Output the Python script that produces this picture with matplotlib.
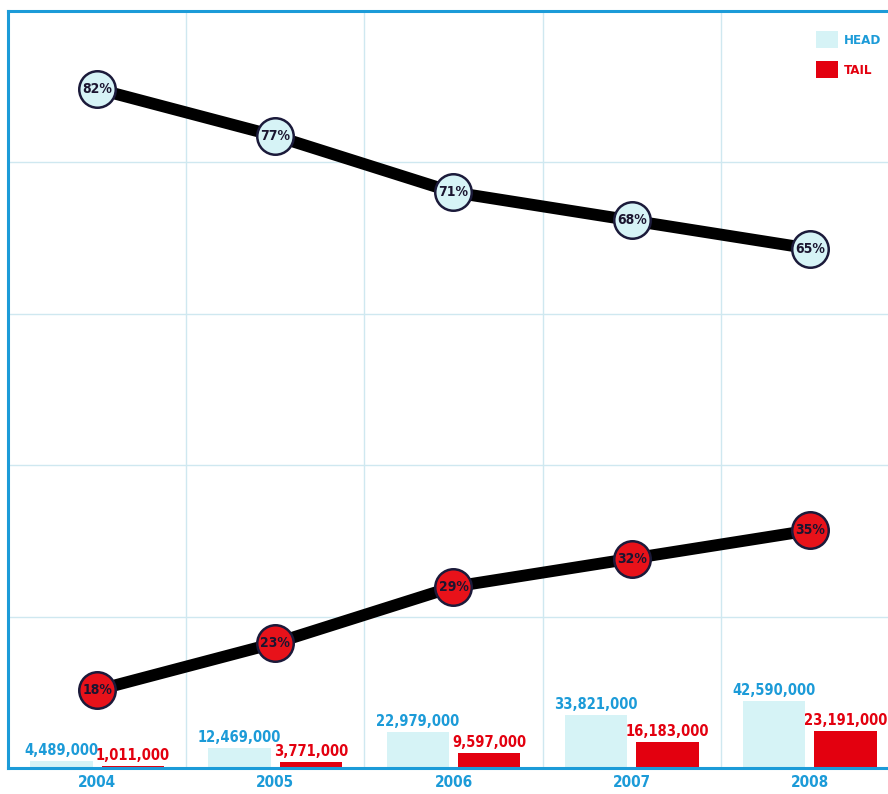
import numpy as np
import matplotlib.pyplot as plt
from matplotlib.patches import Patch

years = ['2004', '2005', '2006', '2007', '2008']
head_views = [4489000, 12469000, 22979000, 33821000, 42590000]
tail_views = [1011000, 3771000, 9597000, 16183000, 23191000]
head_share = [82, 77, 71, 68, 65]
tail_share = [18, 23, 29, 32, 35]

BLUE = '#1c9bd8'
RED = '#e3000f'
HEAD_FILL = '#d6f3f6'
TAIL_FILL = '#e8121a'

plt.rcParams['font.family'] = ['DejaVu Sans']
plt.rcParams['font.stretch'] = 'condensed'
plt.rcParams['font.weight'] = 'bold'

fig = plt.figure(figsize=(8.88, 7.94), dpi=100)
ax = fig.add_axes([8 / 888, 26 / 794, 891 / 888, 757 / 794])

x = np.arange(len(years))
w = 0.35
ax.bar(x - 0.2, np.array(head_views) / 1e6, w, color=HEAD_FILL, zorder=2)
ax.bar(x + 0.2, np.array(tail_views) / 1e6, w, color=RED, zorder=2)
for xi, h, t in zip(x, head_views, tail_views):
    ax.text(xi - 0.2, h / 1e6 + 2, f'{h:,}', ha='center', va='bottom',
            color=BLUE, fontsize=10.5, zorder=3)
    ax.text(xi + 0.2, t / 1e6 + 2, f'{t:,}', ha='center', va='bottom',
            color=RED, fontsize=10.5, zorder=3)

ax.set_xlim(-0.5, 4.5)
ax.set_ylim(0, 480)
ax.set_yticks(np.linspace(0, 480, 6))
ax.set_yticklabels([])
ax.set_xticks(x)
ax.set_xticklabels(years, color=BLUE, fontsize=11)
ax.set_xticks(np.arange(-0.5, 5, 1), minor=True)
ax.tick_params(axis='both', which='both', length=0)
ax.tick_params(axis='x', pad=5)
ax.grid(True, which='minor', axis='x', color='#cfe8f0', lw=1)
ax.grid(True, which='major', axis='y', color='#cfe8f0', lw=1)
ax.set_axisbelow(True)
for side in ['left', 'top', 'bottom']:
    ax.spines[side].set_color(BLUE)
    ax.spines[side].set_linewidth(2.2)
ax.spines['right'].set_visible(False)

# share of views on its own scale
ax2 = ax.twinx()
ax2.set_ylim(9.7, 90.3)
ax2.set_yticks([])
for s in ax2.spines.values():
    s.set_visible(False)

for share, fill in [(head_share, HEAD_FILL), (tail_share, TAIL_FILL)]:
    ax2.plot(x, share, color='black', lw=8.5, solid_capstyle='round', zorder=3)
    ax2.scatter(x, share, s=690, color=fill, edgecolor='#1b1a3a', linewidth=1.8, zorder=4)
    for xi, v in zip(x, share):
        ax2.text(xi, v, f'{v}%', ha='center', va='center', fontsize=10,
                 color='#1b1530', zorder=5)

handles = [Patch(facecolor=HEAD_FILL), Patch(facecolor=RED)]
fig.legend(handles, ['HEAD', 'TAIL'], loc='upper left',
           bbox_to_anchor=(816 / 888, 1 - 31 / 794), frameon=False,
           labelcolor=[BLUE, RED], fontsize=9.5, handlelength=1.65,
           handleheight=1.65, handletextpad=0.5, labelspacing=0.95,
           borderpad=0, borderaxespad=0)

fig.savefig('out.png', dpi=100)
